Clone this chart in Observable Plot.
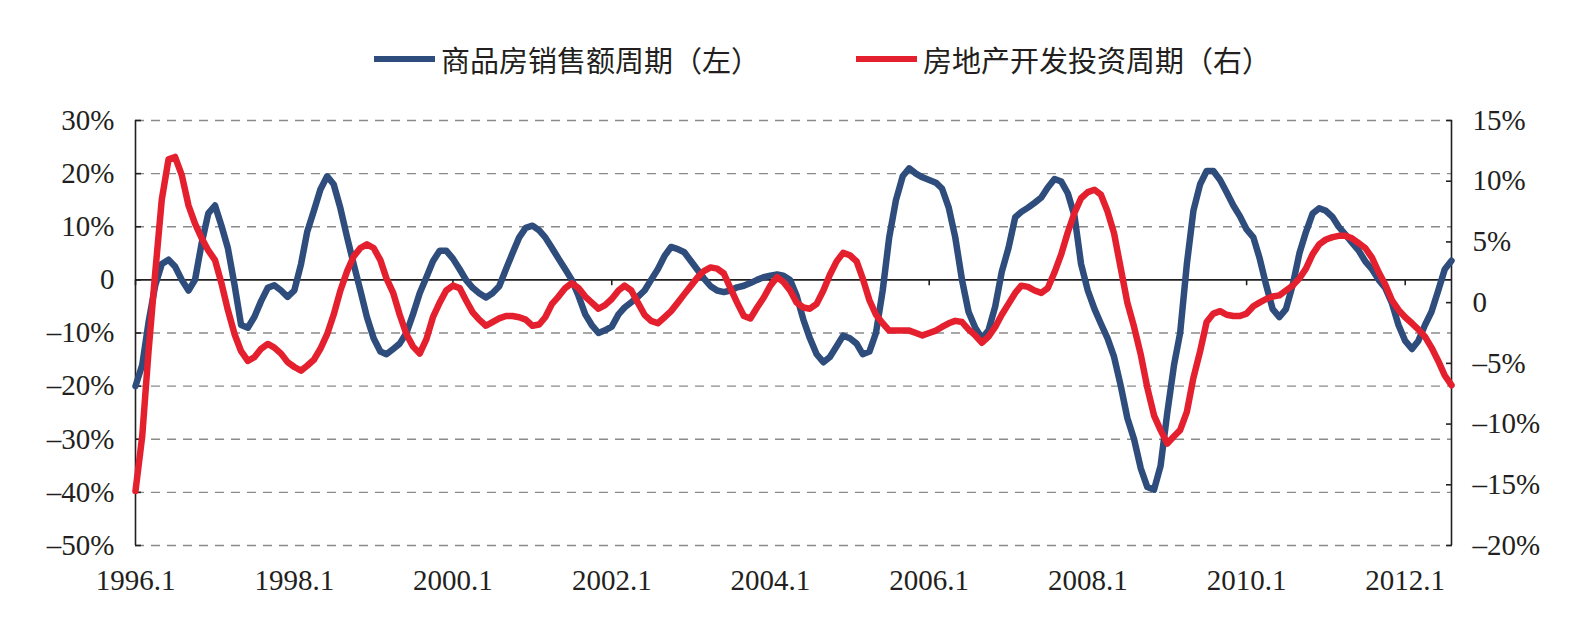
<!DOCTYPE html>
<html>
<head>
<meta charset="utf-8">
<script src="https://cdn.jsdelivr.net/npm/d3@7"></script>
<script src="https://cdn.jsdelivr.net/npm/@observablehq/plot@0.6"></script>
<style>
  html, body { margin: 0; padding: 0; background: #fff; }
  #wrap { position: relative; width: 1586px; height: 621px; overflow: hidden; }
  .leg { position: absolute; top: 40px; height: 38px; display: flex; align-items: center;
         font-family: "Noto Sans CJK SC", sans-serif; font-size: 29px; color: #231f20; white-space: nowrap; }
  .leg .sw { display: inline-block; width: 61px; height: 6px; margin-right: 6px; }
  #chart { position: absolute; left: 0; top: 90px; }
  #chart svg text { font-family: "Liberation Serif", "Times New Roman", serif; }
</style>
</head>
<body>
<div id="wrap">
  <div class="leg" style="left:374px"><span class="sw" style="background:#2e4c7c"></span><span id="l1"></span></div>
  <div class="leg" style="left:856px"><span class="sw" style="background:#e5202e"></span><span id="l2"></span></div>
  <div id="chart"></div>
</div>
<script>
// ---- data (monthly, starting 1996.1) ----
const startYear = 1996;
const seriesNames = ["商品房销售额周期（左）", "房地产开发投资周期（右）"];
const seriesColors = ["#2e4c7c", "#e5202e"];

// 商品房销售额周期 (left axis, %)
const salesCycle = [
  -20, -16, -8, -1, 3, 3.8, 2.5, 0, -2, 0, 7, 12.5,
  14, 10, 6, -1, -8.5, -9, -7, -4, -1.5, -1, -2, -3.2,
  -2, 3, 9, 13, 17, 19.5, 18, 13.5, 8, 3, -2, -7,
  -11, -13.5, -14, -13, -12, -10, -6.5, -2.5, 0.5, 3.5, 5.5, 5.5,
  4, 2, 0, -1.5, -2.5, -3.3, -2.5, -1.2, 2, 5, 8, 9.8,
  10.2, 9.3, 8, 6, 4, 2, 0, -3, -6.5, -8.5, -10, -9.5,
  -8.8, -6.5, -5.2, -4.2, -3.2, -2, 0, 2, 4.5, 6.2, 5.8, 5.2,
  3.5, 1.8, 0.3, -1.2, -2, -2.3, -2, -1.4, -1.1, -0.6, 0, 0.5,
  0.8, 1, 0.8, 0, -3, -7.5, -11, -14, -15.5, -14.5, -12.5, -10.5,
  -11, -12, -14, -13.5, -10, -2, 8, 15, 19.5, 21, 20, 19.3,
  18.8, 18.3, 17.2, 13.6, 8, 0, -6, -9, -11, -9.5, -5, 1.5,
  6, 11.8, 12.8, 13.6, 14.5, 15.5, 17.4, 19, 18.5, 16.3, 12, 3,
  -2, -5.5, -8.2, -11, -14.5, -20, -26, -30, -35.5, -39, -39.5, -35,
  -25, -16, -10, 3, 13, 18, 20.5, 20.5, 18.8, 16.5, 14, 12,
  9.5, 8, 4.2, -1, -5.5, -7, -5.5, -1, 5, 9, 12.5, 13.5,
  13, 11.8, 10, 8.5, 7, 5.5, 3.5, 2, 0, -1.5, -4.4, -8.5,
  -11.5, -13, -11.5, -8.5, -6, -2, 2, 3.6
];

// 房地产开发投资周期 (right axis, %)
const investCycle = [
  -15.5, -11, -4, 2.5, 8.5, 11.8, 12, 10.5, 8, 6.5, 5.3, 4.3,
  3.5, 1.5, -0.6, -2.6, -4, -4.8, -4.5, -3.8, -3.4, -3.7, -4.2, -4.9,
  -5.3, -5.6, -5.2, -4.7, -3.8, -2.6, -1, 1, 2.6, 3.8, 4.5, 4.8,
  4.5, 3.5, 2, 0.8, -1, -2.6, -3.6, -4.2, -3, -1.2, 0, 1,
  1.4, 1.2, 0.2, -0.8, -1.4, -1.9, -1.6, -1.3, -1.1, -1.1, -1.2, -1.4,
  -1.9, -1.8, -1.2, -0.1, 0.5, 1.2, 1.6, 1.2, 0.5, 0, -0.5, -0.2,
  0.3, 1, 1.4, 1, 0, -1, -1.5, -1.7, -1.2, -0.7, 0, 0.7,
  1.4, 2.1, 2.6, 2.9, 2.8, 2.4, 1.2, 0, -1.1, -1.3, -0.4, 0.4,
  1.4, 2.1, 1.7, 1, 0, -0.4, -0.5, -0.1, 1, 2.3, 3.4, 4.1,
  3.9, 3.4, 2, 0.2, -1, -1.7, -2.3, -2.3, -2.3, -2.3, -2.5, -2.7,
  -2.5, -2.3, -2, -1.7, -1.5, -1.6, -2.2, -2.7, -3.3, -2.8, -2, -1,
  -0.1, 0.8, 1.4, 1.3, 1, 0.8, 1.2, 2.5, 4, 5.8, 7.4, 8.6,
  9.1, 9.3, 8.9, 7.5, 5.7, 2.8, 0, -2, -4.3, -7, -9.3, -10.5,
  -11.6, -11, -10.5, -9, -6.2, -4, -1.6, -0.9, -0.7, -1, -1.1, -1.1,
  -0.9, -0.3, 0, 0.3, 0.5, 0.6, 1, 1.4, 2, 2.8, 4, 4.8,
  5.2, 5.4, 5.5, 5.5, 5.3, 4.9, 4.5, 3.7, 2.5, 1.5, 0.2, -0.6,
  -1.2, -1.7, -2.2, -2.8, -3.7, -4.8, -6, -6.8
];

const leftTicks = [30, 20, 10, 0, -10, -20, -30, -40, -50];
const rightTicks = [15, 10, 5, 0, -5, -10, -15, -20];
const xTickYears = [1996, 1998, 2000, 2002, 2004, 2006, 2008, 2010, 2012];

// ---- build ----
document.getElementById("l1").textContent = seriesNames[0];
document.getElementById("l2").textContent = seriesNames[1];

const leftDomain = [-50, 30];
const rightDomain = [-20, 15];
// map right-axis value onto left-axis scale
const r2l = d3.scaleLinear().domain(rightDomain).range(leftDomain);
const fmt = v => v === 0 ? "0" : (v < 0 ? "\u2013" + (-v) : v) + "%";

const dateOf = i => new Date(Date.UTC(startYear, i, 1));
const sales = salesCycle.map((v, i) => ({date: dateOf(i), v}));
const invest = investCycle.map((v, i) => ({date: dateOf(i), v: r2l(v)}));
const xDomain = [dateOf(0), dateOf(salesCycle.length - 1)];
const xTicks = xTickYears.map(y => new Date(Date.UTC(y, 0, 1)));
const rightTicksL = rightTicks.map(r2l);
const serif = "'Liberation Serif', 'Times New Roman', serif";

const chart = Plot.plot({
  width: 1586,
  height: 531,
  marginLeft: 135,
  marginRight: 135,
  marginTop: 30,
  marginBottom: 76,
  style: {fontFamily: serif, fontSize: "29px", color: "#231f20", background: "transparent", overflow: "visible"},
  x: {type: "utc", domain: xDomain, label: null},
  y: {domain: leftDomain, label: null},
  marks: [
    Plot.ruleY(leftTicks.filter(d => d !== 0), {stroke: "#8a8a8a", strokeWidth: 1.4, strokeDasharray: "9,7"}),
    Plot.ruleY([0], {stroke: "#231f20", strokeWidth: 1.6}),
    Plot.ruleX(xTicks, {y1: 0, y2: -1.1, stroke: "#231f20", strokeWidth: 1.6}),
    Plot.ruleX([xDomain[0], xDomain[1]], {stroke: "#231f20", strokeWidth: 1.6}),
    // left axis: inner ticks + labels
    Plot.axisY(leftTicks, {anchor: "left", tickSize: 6, dx: 6, tickFormat: () => "", stroke: "#231f20", strokeWidth: 1.6}),
    Plot.axisY(leftTicks, {anchor: "left", tickSize: 0, tickPadding: 21, tickFormat: fmt, fontSize: 29, fontFamily: serif}),
    // right axis: inner ticks + labels
    Plot.axisY(rightTicksL, {anchor: "right", tickSize: 6, dx: -6, tickFormat: () => "", stroke: "#231f20", strokeWidth: 1.6}),
    Plot.axisY(rightTicksL, {anchor: "right", tickSize: 0, tickPadding: 21, tickFormat: d => fmt(Math.round(r2l.invert(d))), fontSize: 29, fontFamily: serif}),
    // x axis labels
    Plot.axisX(xTicks, {anchor: "bottom", tickSize: 0, tickPadding: 24, tickFormat: d => d.getUTCFullYear() + ".1", fontSize: 29, fontFamily: serif}),
    // series
    Plot.line(sales, {x: "date", y: "v", stroke: seriesColors[0], strokeWidth: 6.5, strokeLinejoin: "round", strokeLinecap: "round"}),
    Plot.line(invest, {x: "date", y: "v", stroke: seriesColors[1], strokeWidth: 6.5, strokeLinejoin: "round", strokeLinecap: "round"})
  ]
});
document.getElementById("chart").appendChild(chart);
</script>
</body>
</html>
